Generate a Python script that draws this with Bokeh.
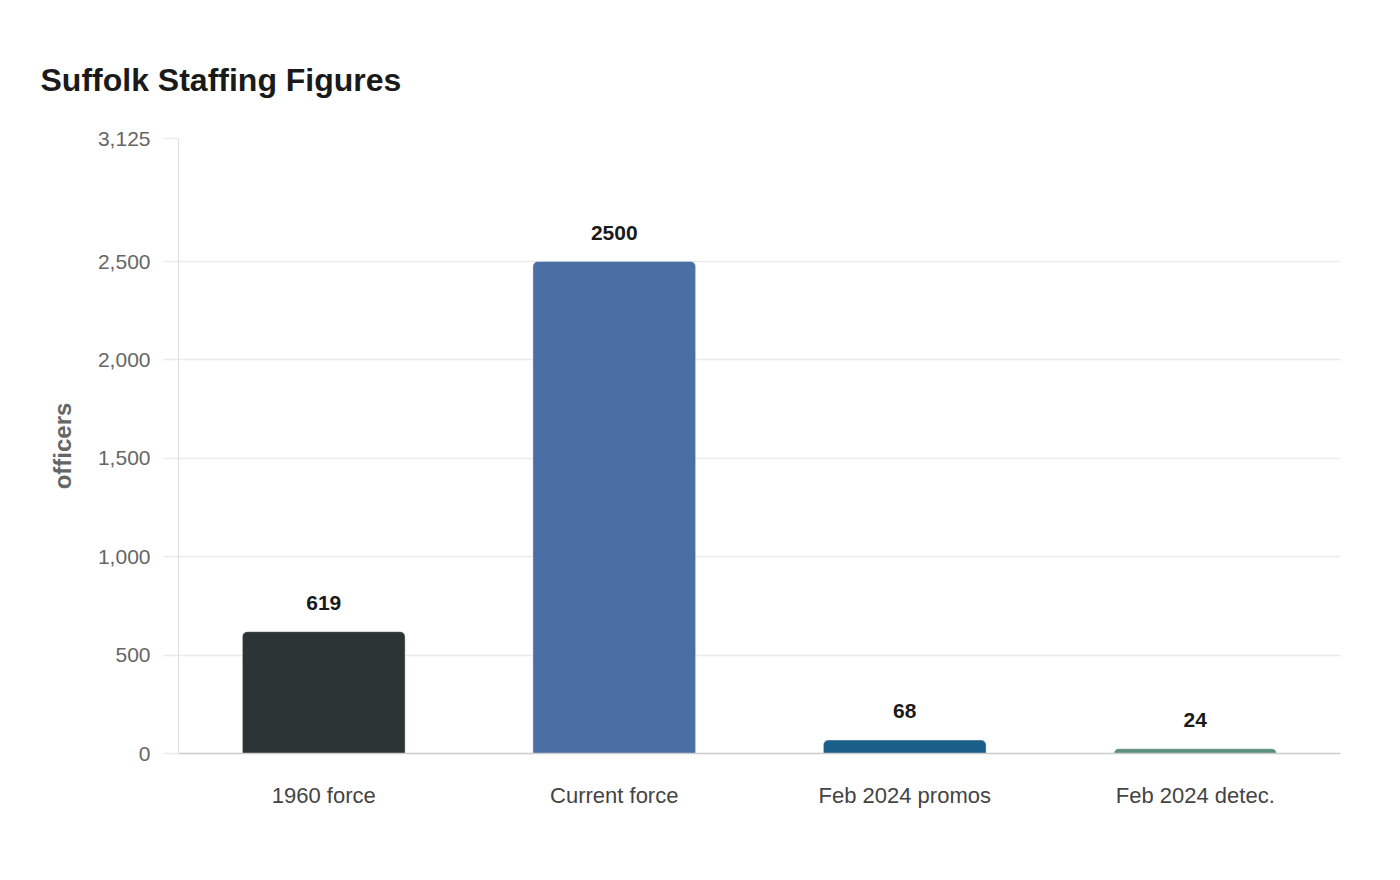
from bokeh.plotting import figure
from bokeh.models import ColumnDataSource, FixedTicker, NumeralTickFormatter, Range1d, Title
from bokeh.core.properties import value
from bokeh.embed import file_html
from bokeh.resources import INLINE

categories = ["1960 force", "Current force", "Feb 2024 promos", "Feb 2024 detec."]
officers = [619, 2500, 68, 24]
bar_colors = ["#2d3436", "#4a6fa5", "#1a5f8a", "#5b8f7a"]
y_ticks = [0, 500, 1000, 1500, 2000, 2500, 3125]

FONT = "Liberation Sans"

src = ColumnDataSource(dict(
    cat=categories,
    val=officers,
    color=bar_colors,
    label=[str(v) for v in officers],
))

p = figure(
    x_range=categories,
    y_range=Range1d(0, 3125),
    width=1384, height=860,
    output_backend="svg", toolbar_location=None,
    min_border_left=178, min_border_right=44,
    min_border_top=138, min_border_bottom=107,
)
p.x_range.range_padding = 0
p.outline_line_color = None
p.background_fill_color = "white"

t = Title(text="Suffolk Staffing Figures", text_font=FONT, text_font_size="32px",
          text_font_style="bold", text_color="#1a1a1a", offset=-138, standoff=81)
p.add_layout(t, "above")

p.vbar(x="cat", top="val", width=0.56, source=src, fill_color="color",
       line_color="white", line_alpha=0.35, line_width=1,
       border_radius=(5, 5, 0, 0))

p.text(x="cat", y="val", text="label", source=src, y_offset=-29,
       text_align="center", text_baseline="middle",
       text_font=value(FONT), text_font_size="21px", text_font_style="bold",
       text_color="#1a1a1a")

# y axis
p.yaxis.ticker = FixedTicker(ticks=y_ticks)
p.yaxis.formatter = NumeralTickFormatter(format="0,0")
p.yaxis.major_label_text_font = FONT
p.yaxis.major_label_text_font_size = "21px"
p.yaxis.major_label_text_color = "#666666"
p.yaxis.major_tick_out = 15
p.yaxis.major_tick_in = 0
p.yaxis.major_tick_line_color = "#ebebeb"
p.yaxis.major_tick_line_width = 1.5
p.yaxis.minor_tick_line_color = None
p.yaxis.axis_line_color = "#dddddd"
p.yaxis.axis_line_width = 1
p.yaxis.major_label_standoff = 13
p.yaxis.axis_label = "officers"
p.yaxis.axis_label_text_font = FONT
p.yaxis.axis_label_text_font_size = "24px"
p.yaxis.axis_label_text_font_style = "bold"
p.yaxis.axis_label_text_color = "#666666"
p.yaxis.axis_label_standoff = 19

# x axis
p.xaxis.major_label_text_font = FONT
p.xaxis.major_label_text_font_size = "22px"
p.xaxis.major_label_text_color = "#444444"
p.xaxis.major_tick_line_color = None
p.xaxis.major_tick_out = 0
p.xaxis.major_tick_in = 0
p.xaxis.axis_line_color = "#cccccc"
p.xaxis.axis_line_width = 1.5
p.xaxis.major_label_standoff = 29

p.xgrid.grid_line_color = None
p.ygrid.grid_line_color = "#ebebeb"
p.ygrid.grid_line_width = 1.5

open("out.html", "w").write(file_html(p, INLINE))
